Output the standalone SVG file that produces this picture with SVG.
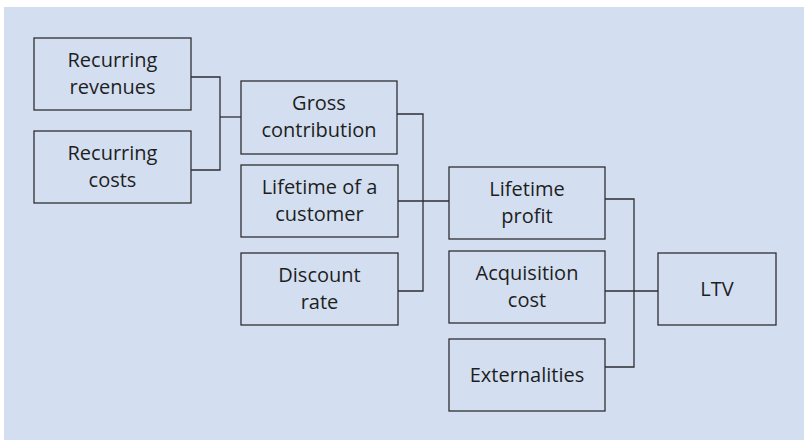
<svg xmlns="http://www.w3.org/2000/svg" width="804" height="440" viewBox="0 0 804 440">
<style>
.bg{fill:#d3dff0}
.box{fill:#d3dff0;stroke:#2e2e33;stroke-width:1.3}
.lbl{font-family:"Open Sans","Liberation Sans",sans-serif;font-size:20px;fill:#1e1e1e;text-anchor:middle}
.con{fill:none;stroke:#2e2e33;stroke-width:1.3}
</style>
<rect class="bg" x="4" y="7" width="800" height="433"/>
<g id="connectors">
<polyline class="con" points="191,77 220,77 220,170 191,170"/>
<line class="con" x1="220" y1="117" x2="241" y2="117"/>
<polyline class="con" points="397,114 423,114 423,291 398,291"/>
<line class="con" x1="398" y1="201" x2="449" y2="201"/>
<polyline class="con" points="605,199 634,199 634,367 605,367"/>
<line class="con" x1="605" y1="291" x2="658" y2="291"/>
</g>
<g id="recurring-revenues">
<rect class="box" x="34" y="38" width="157" height="72"/>
<text class="lbl" x="112.5" y="67">Recurring</text>
<text class="lbl" x="112.5" y="94">revenues</text>
</g>
<g id="recurring-costs">
<rect class="box" x="34" y="131" width="157" height="72"/>
<text class="lbl" x="112.5" y="160">Recurring</text>
<text class="lbl" x="112.5" y="187">costs</text>
</g>
<g id="gross-contribution">
<rect class="box" x="241" y="81" width="156" height="73"/>
<text class="lbl" x="319" y="110">Gross</text>
<text class="lbl" x="319" y="137">contribution</text>
</g>
<g id="lifetime-of-customer">
<rect class="box" x="241" y="165" width="157" height="72"/>
<text class="lbl" x="319.5" y="194">Lifetime of a</text>
<text class="lbl" x="319.5" y="221">customer</text>
</g>
<g id="discount-rate">
<rect class="box" x="241" y="253" width="157" height="72"/>
<text class="lbl" x="319.5" y="282">Discount</text>
<text class="lbl" x="319.5" y="309">rate</text>
</g>
<g id="lifetime-profit">
<rect class="box" x="449" y="167" width="156" height="72"/>
<text class="lbl" x="527" y="196">Lifetime</text>
<text class="lbl" x="527" y="223">profit</text>
</g>
<g id="acquisition-cost">
<rect class="box" x="449" y="251" width="156" height="72"/>
<text class="lbl" x="527" y="280">Acquisition</text>
<text class="lbl" x="527" y="307">cost</text>
</g>
<g id="externalities">
<rect class="box" x="449" y="339" width="156" height="72"/>
<text class="lbl" x="527" y="382">Externalities</text>
</g>
<g id="ltv">
<rect class="box" x="658" y="253" width="118" height="72"/>
<text class="lbl" x="717" y="296">LTV</text>
</g>
</svg>
